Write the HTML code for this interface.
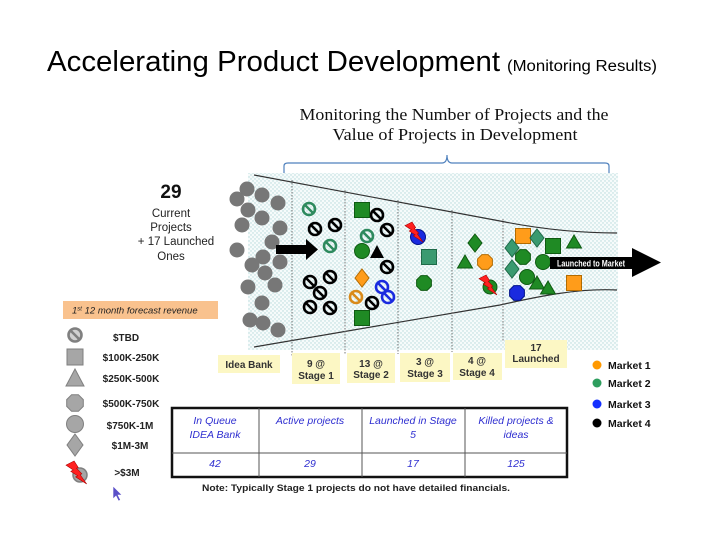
<!DOCTYPE html>
<html>
<head>
<meta charset="utf-8">
<style>
html,body{margin:0;padding:0;background:#fff;}
svg{display:block;}
text{font-family:"Liberation Sans",sans-serif;}
</style>
</head>
<body>
<svg width="720" height="540" viewBox="0 0 720 540" xmlns="http://www.w3.org/2000/svg">
<defs>
<pattern id="dots" width="4" height="4" patternUnits="userSpaceOnUse">
<rect width="4" height="4" fill="#f6fbfb"/>
<circle cx="1" cy="1" r="0.7" fill="#b4d8da"/>
<circle cx="3" cy="3" r="0.7" fill="#b4d8da"/>
</pattern>
</defs>
<rect width="720" height="540" fill="#fff"/>

<!-- Title -->
<text x="47" y="71" font-size="29" fill="#000" textLength="453" lengthAdjust="spacingAndGlyphs">Accelerating Product Development</text>
<text x="507" y="71" font-size="15.5" fill="#000" textLength="150" lengthAdjust="spacingAndGlyphs">(Monitoring Results)</text>

<!-- Subtitle -->
<text x="454" y="120" font-size="17" text-anchor="middle" fill="#111" style="font-family:'Liberation Serif',serif" textLength="309" lengthAdjust="spacingAndGlyphs">Monitoring the Number of Projects and the</text>
<text x="455" y="140" font-size="17" text-anchor="middle" fill="#111" style="font-family:'Liberation Serif',serif" textLength="245" lengthAdjust="spacingAndGlyphs">Value of Projects in Development</text>

<!-- Bracket -->
<path d="M284,176 L284,166 Q284,163 288,163 L442,163 Q447,163 447,155 Q447,163 452,163 L605,163 Q609,163 609,166 L609,176" fill="none" stroke="#4f81bd" stroke-width="1.2"/>

<!-- Dotted background -->
<rect x="248" y="173" width="370" height="177" fill="url(#dots)"/>

<!-- Funnel lines -->
<path d="M254,175 L500,221 C540,229 580,233 617,233" fill="none" stroke="#333" stroke-width="1.2"/>
<path d="M254,347 L500,305 C540,296 580,288 617,290" fill="none" stroke="#333" stroke-width="1.2"/>

<!-- Dividers -->
<g stroke="#777" stroke-width="1" stroke-dasharray="1.5,1.5">
<line x1="292" y1="180" x2="292" y2="356"/>
<line x1="345" y1="190" x2="345" y2="354"/>
<line x1="398" y1="200" x2="398" y2="354"/>
<line x1="452" y1="210" x2="452" y2="352"/>
<line x1="503" y1="219" x2="503" y2="342"/>
</g>

<!-- Idea bank circles -->
<g fill="#777">
<circle cx="247" cy="189" r="7.5"/><circle cx="237" cy="199" r="7.5"/><circle cx="262" cy="195" r="7.5"/>
<circle cx="248" cy="210" r="7.5"/><circle cx="278" cy="203" r="7.5"/><circle cx="242" cy="225" r="7.5"/>
<circle cx="262" cy="218" r="7.5"/><circle cx="280" cy="228" r="7.5"/><circle cx="272" cy="242" r="7.5"/>
<circle cx="237" cy="250" r="7.5"/><circle cx="263" cy="257" r="7.5"/><circle cx="252" cy="265" r="7.5"/>
<circle cx="280" cy="262" r="7.5"/><circle cx="265" cy="273" r="7.5"/><circle cx="248" cy="287" r="7.5"/>
<circle cx="275" cy="285" r="7.5"/><circle cx="262" cy="303" r="7.5"/><circle cx="250" cy="320" r="7.5"/>
<circle cx="263" cy="323" r="7.5"/><circle cx="278" cy="330" r="7.5"/>
</g>

<!-- Stage1 arrow -->
<polygon points="276,245 306,245 306,239 318,249.5 306,260 306,254 276,254" fill="#000"/>

<!-- TBD symbols -->
<g fill="none" stroke-width="2.6">
<g stroke="#2e8a5e">
<circle cx="309" cy="209" r="6"/><line x1="305" y1="205" x2="313" y2="213"/>
<circle cx="330" cy="246" r="6"/><line x1="326" y1="242" x2="334" y2="250"/>
<circle cx="367" cy="236" r="6"/><line x1="363" y1="232" x2="371" y2="240"/>
</g>
<g stroke="#000">
<circle cx="315" cy="229" r="6"/><line x1="311" y1="225" x2="319" y2="233"/>
<circle cx="335" cy="225" r="6"/><line x1="331" y1="221" x2="339" y2="229"/>
<circle cx="310" cy="282" r="6"/><line x1="306" y1="278" x2="314" y2="286"/>
<circle cx="330" cy="277" r="6"/><line x1="326" y1="273" x2="334" y2="281"/>
<circle cx="320" cy="293" r="6"/><line x1="316" y1="289" x2="324" y2="297"/>
<circle cx="310" cy="307" r="6"/><line x1="306" y1="303" x2="314" y2="311"/>
<circle cx="330" cy="308" r="6"/><line x1="326" y1="304" x2="334" y2="312"/>
<circle cx="377" cy="215" r="6"/><line x1="373" y1="211" x2="381" y2="219"/>
<circle cx="387" cy="230" r="6"/><line x1="383" y1="226" x2="391" y2="234"/>
<circle cx="387" cy="267" r="6"/><line x1="383" y1="263" x2="391" y2="271"/>
<circle cx="372" cy="303" r="6"/><line x1="368" y1="299" x2="376" y2="307"/>
</g>
<g stroke="#d98a1a">
<circle cx="356" cy="297" r="6"/><line x1="352" y1="293" x2="360" y2="301"/>
</g>
<g stroke="#1a2adf">
<circle cx="382" cy="287" r="6"/><line x1="378" y1="283" x2="386" y2="291"/>
<circle cx="388" cy="297" r="6"/><line x1="384" y1="293" x2="392" y2="301"/>
</g>
</g>

<!-- Stage 2 shapes -->
<rect x="354.5" y="202.5" width="15" height="15" fill="#1f8a24" stroke="#0f5a12" stroke-width="1"/>
<circle cx="362" cy="251" r="7.5" fill="#1f8a24" stroke="#0f5a12" stroke-width="1"/>
<polygon points="377,245 384,258 370,258" fill="#000"/>
<polygon points="362,269 369,278 362,287 355,278" fill="#ff9c1a" stroke="#b36b00" stroke-width="1"/>
<rect x="354.5" y="310.5" width="15" height="15" fill="#1f8a24" stroke="#0f5a12" stroke-width="1"/>

<!-- Stage 3 -->
<circle cx="418" cy="237" r="7.5" fill="#1a2adf" stroke="#00108b" stroke-width="1"/>
<g transform="translate(405,222)"><polygon points="7.05,0 0,3.63 6.3,7.79 4.16,9 10.16,12.87 8.32,13.83 18,20 12.31,11.95 13.8,11.13 9.19,6.33 10.69,5.67" fill="#ff2020" stroke="#a00" stroke-width="0.6"/></g>
<rect x="421.5" y="249.5" width="15" height="15" fill="#3a9a70" stroke="#1f6a48" stroke-width="1"/>
<polygon points="431.4,286.1 427.1,290.4 420.9,290.4 416.6,286.1 416.6,279.9 420.9,275.6 427.1,275.6 431.4,279.9" fill="#1f8a24" stroke="#0f5a12" stroke-width="1"/>

<!-- Stage 4 -->
<polygon points="475,234 482,243 475,252 468,243" fill="#1f8a24" stroke="#0f5a12" stroke-width="1"/>
<polygon points="465,255 472.5,268 457.5,268" fill="#1f8a24" stroke="#0f5a12" stroke-width="1"/>
<polygon points="492.4,265.1 488.1,269.4 481.9,269.4 477.6,265.1 477.6,258.9 481.9,254.6 488.1,254.6 492.4,258.9" fill="#ff9c1a" stroke="#b36b00" stroke-width="1"/>
<circle cx="490" cy="287" r="7" fill="#1f8a24" stroke="#0f5a12" stroke-width="1"/>
<g transform="translate(479,275)"><polygon points="7.05,0 0,3.63 6.3,7.79 4.16,9 10.16,12.87 8.32,13.83 18,20 12.31,11.95 13.8,11.13 9.19,6.33 10.69,5.67" fill="#ff2020" stroke="#a00" stroke-width="0.6"/></g>

<!-- Launched -->
<rect x="515.5" y="228.5" width="15" height="15" fill="#ff9c1a" stroke="#b36b00" stroke-width="1"/>
<polygon points="537,229 544,238 537,247 530,238" fill="#3a9a70" stroke="#1f6a48" stroke-width="1"/>
<rect x="545.5" y="238.5" width="15" height="15" fill="#1f8a24" stroke="#0f5a12" stroke-width="1"/>
<polygon points="574,235 581.5,248 566.5,248" fill="#1f8a24" stroke="#0f5a12" stroke-width="1"/>
<polygon points="512,239 519,248 512,257 505,248" fill="#3a9a70" stroke="#1f6a48" stroke-width="1"/>
<polygon points="530.4,260.1 526.1,264.4 519.9,264.4 515.6,260.1 515.6,253.9 519.9,249.6 526.1,249.6 530.4,253.9" fill="#1f8a24" stroke="#0f5a12" stroke-width="1"/>
<circle cx="543" cy="262" r="7.5" fill="#1f8a24" stroke="#0f5a12" stroke-width="1"/>
<polygon points="512,260 519,269 512,278 505,269" fill="#3a9a70" stroke="#1f6a48" stroke-width="1"/>
<circle cx="527" cy="277" r="7.5" fill="#1f8a24" stroke="#0f5a12" stroke-width="1"/>
<polygon points="537,276 544.5,289 529.5,289" fill="#1f8a24" stroke="#0f5a12" stroke-width="1"/>
<polygon points="548,281 555.5,294 540.5,294" fill="#1f8a24" stroke="#0f5a12" stroke-width="1"/>
<polygon points="524.4,296.1 520.1,300.4 513.9,300.4 509.6,296.1 509.6,289.9 513.9,285.6 520.1,285.6 524.4,289.9" fill="#1a2adf" stroke="#00108b" stroke-width="1"/>
<rect x="566.5" y="275.5" width="15" height="15" fill="#ff9c1a" stroke="#b36b00" stroke-width="1"/>

<!-- Launched to market arrow -->
<polygon points="550,257 632,257 632,248 661,262.5 632,277 632,269 550,269" fill="#000"/>
<text x="591" y="266.5" font-size="9.5" font-weight="bold" fill="#fff" text-anchor="middle" textLength="68" lengthAdjust="spacingAndGlyphs">Launched to Market</text>

<!-- Stage labels -->
<g fill="#fcf7c4">
<rect x="218" y="355" width="62" height="18"/>
<rect x="292" y="353" width="48" height="31"/>
<rect x="347" y="353" width="48" height="30"/>
<rect x="400" y="353" width="50" height="29"/>
<rect x="453" y="353" width="49" height="27"/>
<rect x="505" y="340" width="62" height="28"/>
</g>
<g font-size="10" font-weight="bold" fill="#333" text-anchor="middle">
<text x="249" y="368">Idea Bank</text>
<text x="316" y="367">9 @</text><text x="316" y="379">Stage 1</text>
<text x="371" y="367">13 @</text><text x="371" y="378">Stage 2</text>
<text x="425" y="365">3 @</text><text x="425" y="377">Stage 3</text>
<text x="477" y="364">4 @</text><text x="477" y="376">Stage 4</text>
<text x="536" y="351">17</text><text x="536" y="362">Launched</text>
</g>

<!-- 29 current projects -->
<text x="171" y="198" font-size="19" font-weight="bold" fill="#111" text-anchor="middle">29</text>
<g font-size="11.5" fill="#222" text-anchor="middle">
<text x="171" y="217">Current</text>
<text x="171" y="231">Projects</text>
<text x="176" y="245">+ 17 Launched</text>
<text x="171" y="260">Ones</text>
</g>

<!-- Legend -->
<rect x="63" y="301" width="155" height="18" fill="#f9c28e"/>
<text x="72" y="313.5" font-size="9.5" font-style="italic" fill="#222">1<tspan font-size="6" dy="-3">st</tspan><tspan dy="3"> 12 month forecast revenue</tspan></text>

<g fill="none" stroke="#808080" stroke-width="2.6">
<circle cx="75" cy="335" r="6.5" fill="#d0d0d0"/><line x1="70.5" y1="330.5" x2="79.5" y2="339.5"/>
</g>
<rect x="67" y="349" width="16" height="16" fill="#a6a6a6" stroke="#7f7f7f" stroke-width="1"/>
<polygon points="75,369 84,386 66,386" fill="#a6a6a6" stroke="#7f7f7f" stroke-width="1"/>
<polygon points="83.3,406.4 78.4,411.3 71.6,411.3 66.7,406.4 66.7,399.6 71.6,394.7 78.4,394.7 83.3,399.6" fill="#a6a6a6" stroke="#7f7f7f" stroke-width="1"/>
<circle cx="75" cy="424" r="8.5" fill="#a6a6a6" stroke="#7f7f7f" stroke-width="1"/>
<polygon points="75,434 83,445 75,456 67,445" fill="#a6a6a6" stroke="#7f7f7f" stroke-width="1"/>
<circle cx="80" cy="475" r="7" fill="#a6a6a6" stroke="#7f7f7f" stroke-width="1.5"/>
<g transform="translate(66,461) scale(1.15)"><polygon points="7.05,0 0,3.63 6.3,7.79 4.16,9 10.16,12.87 8.32,13.83 18,20 12.31,11.95 13.8,11.13 9.19,6.33 10.69,5.67" fill="#ff2020" stroke="#a00" stroke-width="0.5"/></g>

<g font-size="10" font-weight="bold" fill="#222" text-anchor="middle">
<text x="126" y="341">$TBD</text>
<text x="131" y="361">$100K-250K</text>
<text x="131" y="382">$250K-500K</text>
<text x="131" y="407">$500K-750K</text>
<text x="130" y="429">$750K-1M</text>
<text x="130" y="449">$1M-3M</text>
<text x="127" y="476">&gt;$3M</text>
</g>

<!-- cursor -->
<polygon points="113,486 113,499 116,496 118.5,501 120.5,500 118,495 122,495" fill="#5a50c8" stroke="#fff" stroke-width="0.6"/>

<!-- Market legend -->
<circle cx="597" cy="365" r="4.5" fill="#ff9900"/>
<circle cx="597" cy="383" r="4.5" fill="#2e9e5e"/>
<circle cx="597" cy="404" r="4.5" fill="#1430ff"/>
<circle cx="597" cy="423" r="4.5" fill="#000"/>
<g font-size="10.5" font-weight="bold" fill="#111">
<text x="608" y="369">Market 1</text>
<text x="608" y="387">Market 2</text>
<text x="608" y="408">Market 3</text>
<text x="608" y="427">Market 4</text>
</g>

<!-- Table -->
<rect x="172" y="408" width="395" height="69" fill="#fff" stroke="#111" stroke-width="2.5"/>
<g stroke="#555" stroke-width="1">
<line x1="172" y1="453" x2="567" y2="453"/>
<line x1="259" y1="408" x2="259" y2="477"/>
<line x1="362" y1="408" x2="362" y2="477"/>
<line x1="465" y1="408" x2="465" y2="477"/>
</g>
<g font-size="10.5" font-style="italic" fill="#2e2ed0" text-anchor="middle">
<text x="215" y="424">In Queue</text>
<text x="215" y="438">IDEA Bank</text>
<text x="310" y="424">Active projects</text>
<text x="413" y="424">Launched in Stage</text>
<text x="413" y="438">5</text>
<text x="516" y="424">Killed projects &amp;</text>
<text x="516" y="438">ideas</text>
<text x="215" y="467">42</text>
<text x="310" y="467">29</text>
<text x="413" y="467">17</text>
<text x="516" y="467">125</text>
</g>
<text x="202" y="491" font-size="9.5" font-weight="bold" fill="#222" textLength="308" lengthAdjust="spacingAndGlyphs">Note: Typically Stage 1 projects do not have detailed financials.</text>
</svg>
</body>
</html>
